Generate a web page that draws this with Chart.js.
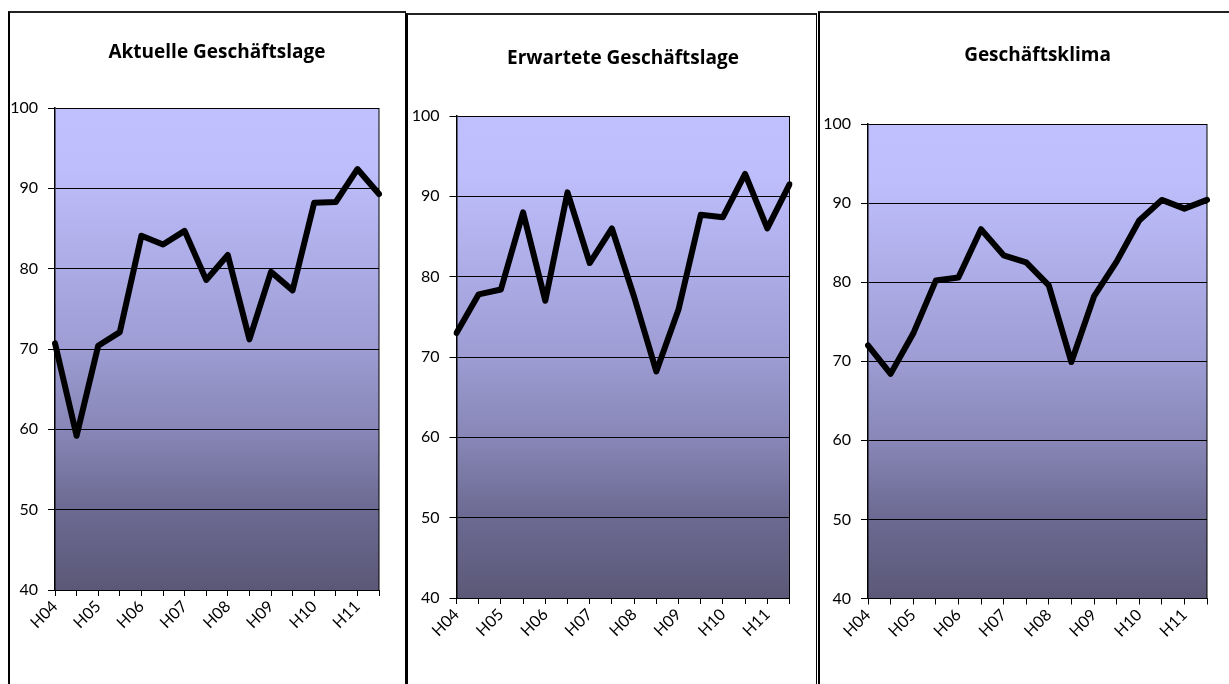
<!DOCTYPE html>
<html>
<head>
<meta charset="utf-8">
<script src="https://cdn.jsdelivr.net/npm/chart.js@4/dist/chart.umd.min.js"></script>
<style>
  body { margin: 0; background: #fff; width: 1229px; height: 684px; overflow: hidden; position: relative; }
  .panel { position: absolute; box-sizing: border-box; border-left: 2px solid #000; border-top: 2px solid #222; border-right: 1px solid #000; height: 700px; }
  canvas { position: absolute; }
</style>
</head>
<body>
<div class="panel" style="left:8px; top:11px; width:398px;"></div>
<div class="panel" style="left:406px; top:13px; width:411px;"></div>
<div class="panel" style="left:818px; top:11px; width:420px;"></div>
<canvas id="c1"></canvas>
<canvas id="c2"></canvas>
<canvas id="c3"></canvas>
<script>
// Halbjahre, nur jedes zweite beschriftet
const periods = ['H04', '', 'H05', '', 'H06', '', 'H07', '', 'H08', '', 'H09', '', 'H10', '', 'H11', ''];

const aktuelleLage = [70.7, 59.2, 70.4, 72.1, 84.1, 83.0, 84.7, 78.6, 81.7, 71.2, 79.6, 77.3, 88.2, 88.3, 92.4, 89.3];
const erwarteteLage = [73.0, 77.8, 78.4, 88.0, 77.0, 90.5, 81.7, 86.0, 77.5, 68.2, 75.9, 87.7, 87.4, 92.8, 86.0, 91.5];
const geschaeftsklima = [72.0, 68.4, 73.5, 80.2, 80.6, 86.7, 83.4, 82.5, 79.6, 69.9, 78.2, 82.6, 87.8, 90.4, 89.3, 90.4];

const yMin = 40;
const yMax = 100;
const yStep = 10;

// canvas box + wanted plot area, in page pixels
const panels = [
  { id: 'c1', title: 'Aktuelle Geschäftslage', data: aktuelleLage,
    box: [10, 13, 405, 684], area: [55, 108, 379, 590], titleY: 53 },
  { id: 'c2', title: 'Erwartete Geschäftslage', data: erwarteteLage,
    box: [408, 15, 816, 684], area: [456.5, 116, 789.5, 598], titleY: 59 },
  { id: 'c3', title: 'Geschäftsklima', data: geschaeftsklima,
    box: [820, 13, 1229, 684], area: [868, 124, 1207, 598.5], titleY: 56 }
];

const plotBackground = {
  id: 'plotBackground',
  beforeDraw(chart) {
    const { ctx, chartArea: a } = chart;
    const g = ctx.createLinearGradient(0, a.top, 0, a.bottom);
    g.addColorStop(0, '#c0c0ff');
    g.addColorStop(0.12, '#bebefc');
    g.addColorStop(0.5, '#9d9cd3');
    g.addColorStop(0.67, '#8786b6');
    g.addColorStop(0.83, '#6c6a92');
    g.addColorStop(1, '#5b5877');
    ctx.save();
    ctx.fillStyle = g;
    ctx.fillRect(a.left, a.top, a.right - a.left, a.bottom - a.top);
    ctx.restore();
  },
  afterDatasetsDraw(chart) {
    const { ctx, chartArea: a } = chart;
    ctx.save();
    ctx.strokeStyle = '#000';
    ctx.lineWidth = 1;
    ctx.beginPath();
    ctx.moveTo(a.right, a.top);
    ctx.lineTo(a.right, a.bottom);
    ctx.stroke();
    ctx.restore();
  }
};

// title centred over the plot area, not over the whole canvas
const panelTitle = {
  id: 'panelTitle',
  afterDraw(chart, args, opts) {
    const { ctx, chartArea: a } = chart;
    ctx.save();
    ctx.fillStyle = '#000';
    ctx.font = 'bold 19px "Open Sans"';
    ctx.textAlign = 'center';
    ctx.textBaseline = 'middle';
    ctx.fillText(opts.text, (a.left + a.right) / 2, opts.y);
    ctx.restore();
  }
};

panels.forEach(p => {
  const [bx0, by0, bx1, by1] = p.box;
  const [ax0, ay0, ax1, ay1] = p.area;
  const canvas = document.getElementById(p.id);
  canvas.style.left = bx0 + 'px';
  canvas.style.top = by0 + 'px';
  canvas.style.width = (bx1 - bx0) + 'px';
  canvas.style.height = (by1 - by0) + 'px';
  canvas.width = bx1 - bx0;
  canvas.height = by1 - by0;

  new Chart(canvas.getContext('2d'), {
    type: 'line',
    data: {
      labels: periods,
      datasets: [{
        data: p.data,
        borderColor: '#000',
        borderWidth: 6,
        borderJoinStyle: 'round',
        borderCapStyle: 'round',
        pointRadius: 0,
        tension: 0,
        fill: false
      }]
    },
    options: {
      responsive: false,
      animation: false,
      layout: { padding: { top: ay0 - by0, left: 0, bottom: 0, right: bx1 - ax1 } },
      plugins: {
        legend: { display: false },
        tooltip: { enabled: false },
        title: { display: false },
        panelTitle: { text: p.title, y: p.titleY - by0 }
      },
      scales: {
        x: {
          offset: false,
          afterFit(scale) { scale.height = by1 - ay1; },
          grid: { drawOnChartArea: false, color: '#000', tickLength: 6, tickColor: '#000' },
          border: { color: '#000', width: 1 },
          ticks: {
            autoSkip: false,
            maxRotation: 45,
            minRotation: 45,
            padding: 1,
            color: '#000',
            font: { family: 'Lato', size: 16 }
          }
        },
        y: {
          min: yMin,
          max: yMax,
          afterFit(scale) { scale.width = ax0 - bx0; },
          grid: { color: '#000', lineWidth: 1, tickLength: 7, tickColor: '#000' },
          border: { color: '#000', width: 1.5 },
          ticks: {
            stepSize: yStep,
            padding: 10,
            color: '#000',
            font: { family: 'Lato', size: 16 }
          }
        }
      }
    },
    plugins: [plotBackground, panelTitle]
  });
});
</script>
</body>
</html>
